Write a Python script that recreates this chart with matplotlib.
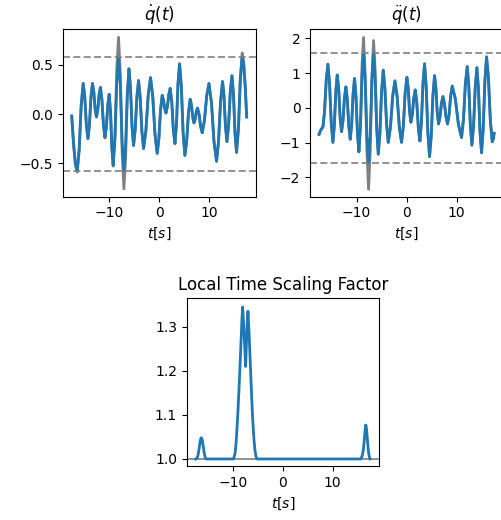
import matplotlib
matplotlib.use("Agg")
import matplotlib.pyplot as plt

# ---------------- data ----------------
# velocity  q_dot(t): original (gray) and time-scaled (blue)
t_v = [-17.50, -17.13, -16.77, -16.40, -16.00, -15.60, -15.20, -14.88, -14.57, -14.25,
       -13.95, -13.65, -13.35, -13.08, -12.82, -12.55, -12.28, -12.02, -11.75, -11.45,
       -11.15, -10.85, -10.57, -10.28, -10.00, -9.73, -9.47, -9.20, -8.84, -8.49,
       -8.13, -7.77, -7.42, -7.06, -6.72, -6.39, -6.05, -5.74, -5.44, -5.13,
       -4.80, -4.46, -4.13, -3.80, -3.46, -3.13, -2.66, -2.20, -1.73, -1.29,
       -0.84, -0.40, -0.07, 0.27, 0.60, 0.85, 1.10, 1.35, 1.63, 1.92,
       2.20, 2.52, 2.83, 3.15, 3.46, 3.76, 4.07, 4.43, 4.78, 5.14,
       5.49, 5.85, 6.20, 6.45, 6.70, 6.95, 7.19, 7.43, 7.67, 7.98,
       8.29, 8.60, 9.05, 9.50, 9.95, 10.46, 10.96, 11.47, 11.87, 12.27,
       12.67, 12.96, 13.26, 13.55, 13.88, 14.22, 14.55, 14.86, 15.16, 15.47,
       15.85, 16.22, 16.60, 16.90, 17.20, 17.50]
v_scaled = [-0.02, -0.30, -0.505, -0.58, -0.358, 0.088, 0.31, 0.17, -0.11, -0.25,
            -0.11, 0.17, 0.31, 0.225, 0.055, -0.03, 0.045, 0.195, 0.27, 0.143,
            -0.113, -0.24, -0.13, 0.09, 0.20, 0.02, -0.34, -0.52, -0.245, 0.305,
            0.58, 0.291, -0.286, -0.575, -0.316, 0.201, 0.46, 0.265, -0.125, -0.32,
            -0.155, 0.175, 0.34, 0.168, -0.178, -0.35, -0.17, 0.19, 0.37, 0.178,
            -0.208, -0.40, -0.253, 0.043, 0.19, 0.145, 0.055, 0.01, 0.073, 0.198,
            0.26, 0.12, -0.16, -0.30, -0.098, 0.308, 0.51, 0.278, -0.188, -0.42,
            -0.278, 0.008, 0.15, 0.09, -0.03, -0.09, -0.053, 0.023, 0.06, -0.003,
            -0.128, -0.19, -0.065, 0.185, 0.31, 0.113, -0.283, -0.48, -0.278, 0.128,
            0.33, 0.178, -0.128, -0.28, -0.113, 0.223, 0.39, 0.195, -0.195, -0.39,
            -0.148, 0.338, 0.58, 0.498, 0.275, -0.03]
v_orig = [-0.02, -0.30, -0.51, -0.59, -0.36, 0.088, 0.31, 0.17, -0.11, -0.25,
          -0.11, 0.17, 0.31, 0.225, 0.055, -0.03, 0.045, 0.195, 0.27, 0.143,
          -0.113, -0.24, -0.13, 0.09, 0.20, 0.018, -0.348, -0.53, -0.203, 0.453,
          0.78, 0.395, -0.375, -0.76, -0.455, 0.155, 0.46, 0.265, -0.125, -0.32,
          -0.155, 0.175, 0.34, 0.168, -0.178, -0.35, -0.17, 0.19, 0.37, 0.178,
          -0.208, -0.40, -0.253, 0.043, 0.19, 0.145, 0.055, 0.01, 0.073, 0.198,
          0.26, 0.12, -0.16, -0.30, -0.098, 0.308, 0.51, 0.278, -0.188, -0.42,
          -0.278, 0.008, 0.15, 0.09, -0.03, -0.09, -0.053, 0.023, 0.06, -0.003,
          -0.128, -0.19, -0.065, 0.185, 0.31, 0.113, -0.283, -0.48, -0.278, 0.128,
          0.33, 0.178, -0.128, -0.28, -0.113, 0.223, 0.39, 0.195, -0.195, -0.39,
          -0.138, 0.368, 0.62, 0.533, 0.295, -0.03]

# acceleration q_ddot(t): original (gray) and time-scaled (blue)
t_a = [-17.50, -17.30, -17.07, -16.90, -16.74, -16.41, -16.07, -15.74, -15.41, -15.07,
       -14.74, -14.45, -14.16, -13.87, -13.58, -13.30, -13.01, -12.72, -12.43, -12.14,
       -11.85, -11.56, -11.27, -10.98, -10.70, -10.41, -10.12, -9.83, -9.54, -9.23,
       -8.92, -8.61, -8.28, -7.94, -7.61, -7.28, -6.94, -6.61, -6.30, -5.98,
       -5.67, -5.34, -5.00, -4.67, -4.34, -4.00, -3.67, -3.23, -2.78, -2.34,
       -1.90, -1.45, -1.01, -0.65, -0.30, 0.06, 0.33, 0.59, 0.86, 1.15,
       1.44, 1.73, 2.04, 2.35, 2.66, 2.97, 3.28, 3.59, 3.92, 4.26,
       4.59, 4.92, 5.26, 5.59, 5.86, 6.12, 6.39, 6.68, 6.97, 7.26,
       7.57, 7.88, 8.19, 8.50, 8.82, 9.13, 9.75, 10.37, 10.99, 11.37,
       11.75, 12.13, 12.44, 12.75, 13.06, 13.39, 13.73, 14.06, 14.37, 14.68,
       14.99, 15.32, 15.66, 15.99, 16.37, 16.75, 17.13, 17.32, 17.50]
a_scaled = [-0.76, -0.68, -0.61, -0.58, -0.55, -0.10, 0.81, 1.26, 0.70, -0.43,
            -0.99, -0.505, 0.465, 0.95, 0.54, -0.27, -0.68, -0.36, 0.29, 0.61,
            0.23, -0.52, -0.90, -0.46, 0.41, 0.85, 0.32, -0.73, -1.26, -0.55,
            0.88, 1.59, 0.795, -0.795, -1.59, -0.795, 0.795, 1.59, 0.86, -0.60,
            -1.33, -0.725, 0.485, 1.09, 0.57, -0.47, -0.99, -0.55, 0.34, 0.78,
            0.34, -0.55, -0.99, -0.52, 0.41, 0.88, 0.56, -0.09, -0.41, -0.18,
            0.29, 0.52, 0.15, -0.58, -0.95, -0.40, 0.72, 1.27, 0.60, -0.73,
            -1.40, -0.82, 0.35, 0.93, 0.58, -0.11, -0.46, -0.26, 0.13, 0.33,
            0.13, -0.26, -0.46, -0.19, 0.36, 0.63, 0.26, -0.48, -0.85, -0.34,
            0.68, 1.19, 0.63, -0.51, -1.07, -0.51, 0.60, 1.16, 0.55, -0.68,
            -1.29, -0.60, 0.78, 1.47, 0.86, -0.36, -0.97, -0.90, -0.73]
a_orig = [-0.76, -0.68, -0.61, -0.58, -0.55, -0.10, 0.81, 1.26, 0.70, -0.43,
          -0.99, -0.505, 0.465, 0.95, 0.54, -0.27, -0.68, -0.36, 0.29, 0.61,
          0.23, -0.52, -0.90, -0.46, 0.41, 0.85, 0.32, -0.73, -1.26, -0.44,
          1.21, 2.03, 0.94, -1.25, -2.34, -1.27, 0.87, 1.94, 1.12, -0.51,
          -1.33, -0.725, 0.485, 1.09, 0.57, -0.47, -0.99, -0.55, 0.34, 0.78,
          0.34, -0.55, -0.99, -0.52, 0.41, 0.88, 0.56, -0.09, -0.41, -0.18,
          0.29, 0.52, 0.15, -0.58, -0.95, -0.40, 0.72, 1.27, 0.60, -0.73,
          -1.40, -0.82, 0.35, 0.93, 0.58, -0.11, -0.46, -0.26, 0.13, 0.33,
          0.13, -0.26, -0.46, -0.19, 0.36, 0.63, 0.26, -0.48, -0.85, -0.34,
          0.68, 1.19, 0.63, -0.51, -1.07, -0.51, 0.60, 1.16, 0.55, -0.68,
          -1.29, -0.60, 0.78, 1.47, 0.86, -0.36, -0.97, -0.90, -0.73]

# local time scaling factor
t_s = [-17.50, -17.20, -17.00, -16.80, -16.60, -16.45, -16.34, -16.20, -16.00, -15.80,
       -15.60, -15.40, -9.90, -9.60, -9.40, -9.20, -9.00, -8.80, -8.60, -8.40,
       -8.20, -8.07, -7.90, -7.70, -7.47, -7.30, -7.15, -7.00, -6.80, -6.60,
       -6.40, -6.20, -6.00, -5.80, -5.60, -5.40, -5.20, 15.70, 16.00, 16.20,
       16.40, 16.55, 16.66, 16.80, 17.00, 17.20, 17.40, 17.50]
s_vals = [1.000, 1.002, 1.010, 1.024, 1.040, 1.047, 1.048, 1.044, 1.030, 1.015,
          1.004, 1.000, 1.000, 1.012, 1.035, 1.070, 1.110, 1.160, 1.210, 1.265,
          1.320, 1.345, 1.310, 1.265, 1.210, 1.265, 1.310, 1.335, 1.290, 1.235,
          1.180, 1.125, 1.080, 1.045, 1.020, 1.006, 1.000, 1.000, 1.010, 1.025,
          1.050, 1.070, 1.077, 1.068, 1.040, 1.015, 1.002, 1.000]

vel_limit = 0.58
acc_limit = 1.59
x_ticks = [-10, 0, 10]

# ---------------- figure ----------------
W, H = 501, 520
fig = plt.figure(figsize=(W / 100, H / 100), dpi=100)


def ax_px(x0, y0, x1, y1):
    return fig.add_axes([x0 / W, 1 - y1 / H, (x1 - x0) / W, (y1 - y0) / H])


ax1 = ax_px(62.7, 29.0, 255.7, 196.7)
ax2 = ax_px(310.1, 29.0, 503.1, 196.7)
ax3 = ax_px(186.7, 298.3, 379.0, 466.3)

blue = "#1f77b4"
gray = "gray"
dash = (0, (4.2, 2.0))

# velocity
ax1.plot(t_v, v_orig, color=gray, lw=2.0)
ax1.plot(t_v, v_scaled, color=blue, lw=2.0)
ax1.axhline(vel_limit, color=gray, ls=dash, lw=1.2)
ax1.axhline(-vel_limit, color=gray, ls=dash, lw=1.2)
ax1.set_title(r"$\dot{q}(t)$", fontsize=12)
ax1.set_xlabel(r"$t[s]$")
ax1.set_xlim(-19.3, 19.3)
ax1.set_ylim(-0.840, 0.864)
ax1.set_xticks(x_ticks)

# acceleration
ax2.plot(t_a, a_orig, color=gray, lw=2.0)
ax2.plot(t_a, a_scaled, color=blue, lw=2.0)
ax2.axhline(acc_limit, color=gray, ls=dash, lw=1.2)
ax2.axhline(-acc_limit, color=gray, ls=dash, lw=1.2)
ax2.set_title(r"$\ddot{q}(t)$", fontsize=12)
ax2.set_xlabel(r"$t[s]$")
ax2.set_xlim(-19.3, 19.3)
ax2.set_ylim(-2.553, 2.273)
ax2.set_xticks(x_ticks)

# scaling factor
ax3.axhline(1.0, color=gray, lw=1.2)
ax3.plot(t_s, s_vals, color=blue, lw=2.0)
ax3.set_title("Local Time Scaling Factor", fontsize=12)
ax3.set_xlabel(r"$t[s]$")
ax3.set_xlim(-19.3, 19.3)
ax3.set_ylim(0.9834, 1.3645)
ax3.set_xticks(x_ticks)

fig.savefig("out.png", dpi=100)
